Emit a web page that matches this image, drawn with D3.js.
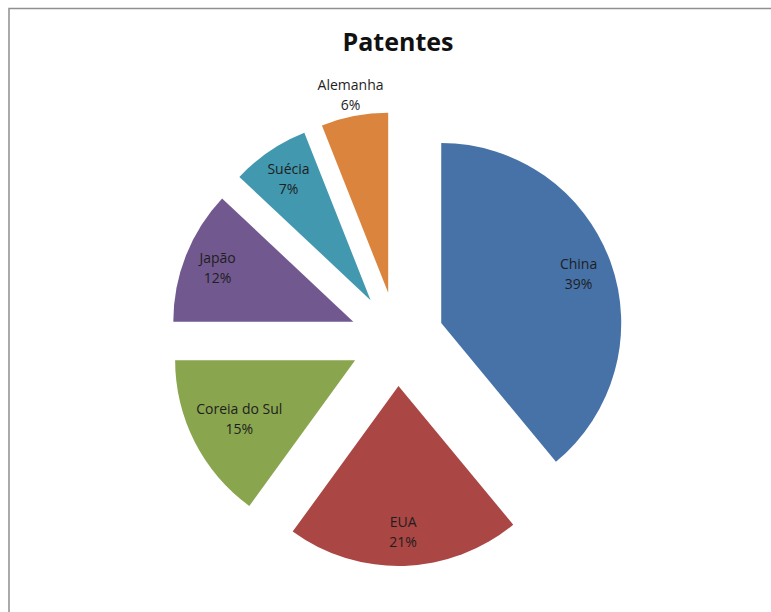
<!DOCTYPE html>
<html>
<head>
<meta charset="utf-8">
<script src="https://cdn.jsdelivr.net/npm/d3@7"></script>
<style>
  html, body { margin: 0; padding: 0; background: #fff; }
  svg { display: block; }
</style>
</head>
<body>
<svg id="chart" width="771" height="612"></svg>
<script>
// Patent share by country
const countries = ["China", "EUA", "Coreia do Sul", "Japão", "Suécia", "Alemanha"];
const shares = [39, 21, 15, 12, 7, 6];
const colors = ["#4672A8", "#AA4643", "#89A54E", "#71588F", "#4198AF", "#DB843D"];

const W = 771, H = 612;
const svg = d3.select("#chart");
const FONT = "Open Sans, Liberation Sans, sans-serif";

// chart frame (runs off the right and bottom edges)
svg.append("rect")
  .attr("x", 9).attr("y", 8.5)
  .attr("width", W + 20).attr("height", H + 20)
  .attr("fill", "#fff").attr("stroke", "#8f8f8f").attr("stroke-width", 1.5);

const cx = 397, cy = 339;      // pie centre before explosion
const radius = 180;
const explode = 47;            // every slice pulled out by the same distance

svg.append("text")
  .attr("x", cx + 1).attr("y", 51)
  .attr("text-anchor", "middle")
  .attr("font-family", FONT)
  .attr("font-weight", "bold")
  .attr("font-size", 25)
  .attr("fill", "#111")
  .text("Patentes");

const data = countries.map((c, i) => ({ name: c, value: shares[i], color: colors[i] }));
const pie = d3.pie().value(d => d.value).sort(null);
const arcs = pie(data);
const arc = d3.arc().innerRadius(0).outerRadius(radius);

const g = svg.append("g").attr("transform", `translate(${cx},${cy})`);

const slice = g.selectAll("g.slice")
  .data(arcs)
  .enter().append("g")
  .attr("class", "slice")
  .attr("transform", d => {
    const m = (d.startAngle + d.endAngle) / 2;
    return `translate(${explode * Math.sin(m)},${-explode * Math.cos(m)})`;
  });

slice.append("path")
  .attr("d", arc)
  .attr("fill", d => d.data.color);

// two-line labels: name and percentage
const LINE = 20;
const label = slice.append("text")
  .attr("text-anchor", "middle")
  .attr("font-family", FONT)
  .attr("font-size", 14)
  .attr("fill", "#1e1e1e");

label.append("tspan").attr("x", 0).attr("y", -5).text(d => d.data.name);
label.append("tspan").attr("x", 0).attr("y", -5 + LINE).text(d => d.data.value + "%");

// best fit: inside the slice, pulled toward the apex until the text box sits
// within the arc; narrow slices get their label just outside the arc
label.attr("transform", function(d) {
  const m = (d.startAngle + d.endAngle) / 2;
  const ux = Math.sin(m), uy = -Math.cos(m);
  const span = d.endAngle - d.startAngle;
  let r;
  if (span < 0.4) {
    r = radius + 21;
  } else {
    const w = this.getBBox().width / 2;
    const h = 17;
    r = 146;
    while (r > 60) {
      const fx = r * ux + Math.sign(ux) * w;
      const fy = r * uy + Math.sign(uy) * h;
      if (Math.hypot(fx, fy) <= radius - 3) break;
      r -= 1;
    }
  }
  return `translate(${r * ux},${r * uy})`;
});
</script>
</body>
</html>
